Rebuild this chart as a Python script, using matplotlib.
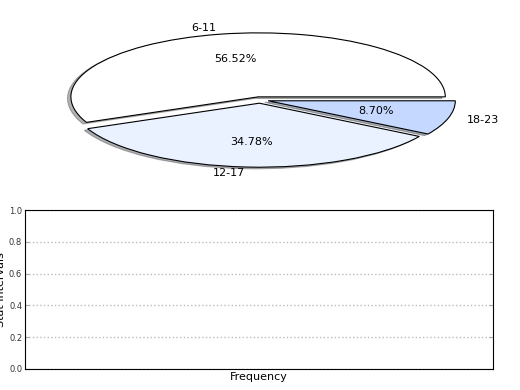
import matplotlib
matplotlib.use("Agg")
import matplotlib.pyplot as plt

# Data
categories = ["6-11", "12-17", "18-23"]
counts = [13, 8, 2]
colors = ["#ffffff", "#ebf2ff", "#c5d8ff"]
explode = [0.05, 0.05, 0.045]
yticks = [0.0, 0.2, 0.4, 0.6, 0.8, 1.0]

fig = plt.figure(figsize=(5.2, 3.9), dpi=100)

W, H = 520.0, 390.0
ax1 = fig.add_axes([26 / W, 1 - 180 / H, 468 / W, 160 / H])
ax1.pie(counts, labels=categories, colors=colors, explode=explode,
        autopct="%1.2f%%", shadow=dict(ox=-0.013, oy=-0.018, shade=0.6),
        startangle=0,
        wedgeprops=dict(edgecolor="black", linewidth=0.8),
        textprops=dict(fontsize=8, color="black"))
ax1.set_aspect("auto")
ax1.set_xlim(-1.25, 1.25)
ax1.set_ylim(-1.25, 1.25)

ax2 = fig.add_axes([25 / W, 1 - 369 / H, 468 / W, 159 / H])
ax2.set_ylim(0, 1)
ax2.set_xlim(0, 1)
ax2.set_xticks([])
ax2.set_yticks(yticks)
ax2.set_yticklabels([f"{v:.1f}" for v in yticks], fontsize=6, color="#333333")
ax2.tick_params(axis="y", direction="in", length=3, color="#aaaaaa",
                right=True, pad=2)
ax2.yaxis.grid(True, linestyle=":", color="#bbbbbb", linewidth=1)
for s in ax2.spines.values():
    s.set_linewidth(0.8)
    s.set_color("black")
ax2.set_xlabel("Frequency", fontsize=8, labelpad=2)
ax2.set_ylabel("Stat Intervals", fontsize=8, labelpad=2)

fig.savefig("out.png", dpi=100)
